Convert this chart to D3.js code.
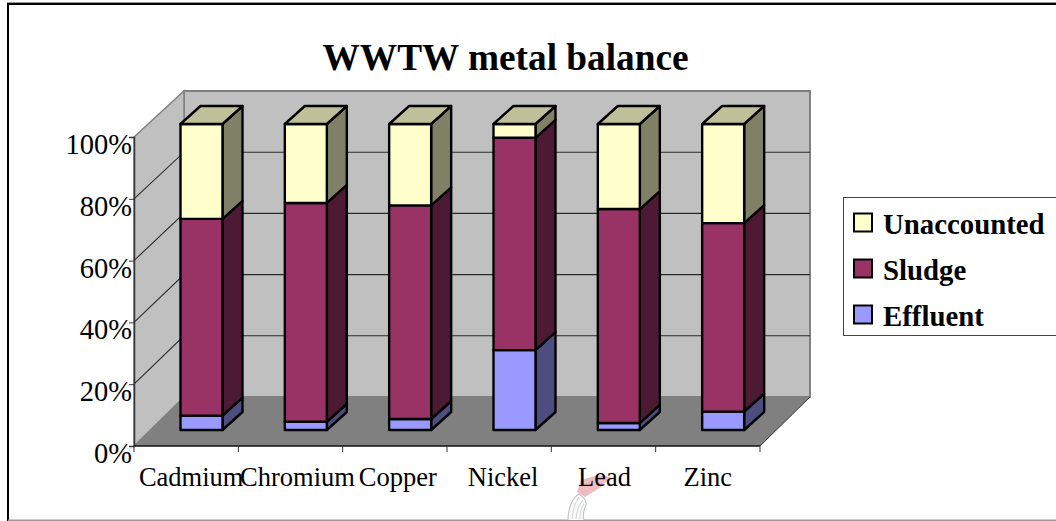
<!DOCTYPE html>
<html>
<head>
<meta charset="utf-8">
<script src="https://cdn.jsdelivr.net/npm/d3@7"></script>
<style>
  html, body { margin: 0; padding: 0; background: #fff; overflow: hidden; }
  svg { display: block; }
  text { font-family: "Liberation Serif", "Times New Roman", serif; fill: #000; }
</style>
</head>
<body>
<svg id="chart" width="1056" height="521"></svg>
<script>
// Share of each metal by destination, in percent.
const metals = ["Cadmium", "Chromium", "Copper", "Nickel", "Lead", "Zinc"];
const effluent = [4.7, 2.7, 3.6, 26.1, 2.3, 6.0];
const sludge = [64.3, 71.5, 69.8, 69.4, 69.9, 61.6];
const unaccounted = [31.0, 25.8, 26.6, 4.5, 27.8, 32.4];
const seriesNames = ["Effluent", "Sludge", "Unaccounted"];
const percentTicks = [0, 20, 40, 60, 80, 100];
const chartTitle = "WWTW metal balance";

const frontColours = { Effluent: "#9999ff", Sludge: "#993366", Unaccounted: "#ffffcc" };
const sideColours = { Effluent: "#4d4d80", Sludge: "#4d1a33", Unaccounted: "#808066" };
const topColour = "#bfbf99";

const svg = d3.select("#chart");

// Box geometry of the 3-D plot: front edge of the floor and the wall's offset behind it.
const floorLeft = 134, floorRight = 760, floorY = 446;
const wallDx = 50;
const x = d3.scaleBand().domain(metals).range([floorLeft, floorRight]);
const y = d3.scaleLinear().domain([0, 100]).range([floorY, 137]);
const backY = d3.scaleLinear().domain([0, 100]).range([397, 91]);
const barY = d3.scaleLinear().domain([0, 100]).range([430, 124]);
const barInset = 46.5, barWidth = 42, barDx = 20, barDy = -18;

const pts = a => a.map(p => p.join(",")).join(" ");

// Top and left rules of the chart border, with the thin rule along the bottom
svg.append("path").attr("d", "M8,521 V4 H1056").attr("fill", "none")
  .attr("stroke", "#000").attr("stroke-width", 2);
svg.append("line").attr("x1", 7).attr("x2", 1056).attr("y1", 2.5).attr("y2", 2.5)
  .attr("stroke", "#999").attr("stroke-width", 1);
svg.append("line").attr("x1", 8).attr("x2", 1056).attr("y1", 520.3).attr("y2", 520.3)
  .attr("stroke", "#9a9a9a").attr("stroke-width", 1.4);

// Small crest printed on the page behind the axis labels
const crest = svg.append("g");
crest.append("path").attr("d", "M577,492 L581,480 L598,475 L611,477 L601,487 L585,497 Z")
  .attr("fill", "#efbcc2");
crest.append("path").attr("d", "M568,520 C568,508 573,497 579,494 C583,497 587,500 586,505 C583,511 583,516 584,520")
  .attr("fill", "#fafafa").attr("stroke", "#c4c4c4").attr("stroke-width", 1.2);
crest.append("path").attr("d", "M572,519 C573,509 575,503 579,497 M576,519 C577,510 579,505 583,500 M580,519 C580,512 581,508 584,504")
  .attr("fill", "none").attr("stroke", "#d2d2d2").attr("stroke-width", 1);

// Walls and floor
const wallFill = "#c0c0c0", edge = "#808080";
svg.append("polygon").attr("fill", wallFill).attr("stroke", edge).attr("stroke-width", 2)
  .attr("points", pts([[floorLeft + wallDx, backY(0)], [floorRight + wallDx, backY(0)], [floorRight + wallDx, backY(100)], [floorLeft + wallDx, backY(100)]]));
svg.append("polygon").attr("fill", wallFill).attr("stroke", edge).attr("stroke-width", 1.5)
  .attr("points", pts([[floorLeft, y(0)], [floorLeft + wallDx, backY(0)], [floorLeft + wallDx, backY(100)], [floorLeft, y(100)]]));
svg.append("polygon").attr("fill", "#808080")
  .attr("points", pts([[floorLeft, y(0)], [floorRight, y(0)], [floorRight + wallDx, backY(0)], [floorLeft + wallDx, backY(0)]]));
svg.append("line").attr("x1", floorRight).attr("y1", y(0)).attr("x2", floorRight + wallDx).attr("y2", backY(0))
  .attr("stroke", "#333").attr("stroke-width", 1);

// Gridlines running along the side wall and across the back wall
const gridTicks = percentTicks.filter(t => t > 0 && t < 100);
svg.append("g").selectAll("polyline").data(gridTicks).join("polyline")
  .attr("fill", "none").attr("stroke", "#2a2a2a").attr("stroke-width", 1.1)
  .attr("points", t => pts([[floorLeft, y(t)], [floorLeft + wallDx, backY(t)], [floorRight + wallDx, backY(t)]]));

// Axis lines with outward ticks, built from the same scales
const yAxis = d3.axisLeft(y).tickValues(percentTicks).tickSize(5).tickFormat(d => d + "%");
const yG = svg.append("g").attr("transform", `translate(${floorLeft},0)`).call(yAxis);
yG.select(".domain").attr("stroke", "#333").attr("stroke-width", 1.5);
yG.selectAll(".tick line").attr("stroke", "#333");
yG.selectAll("text").attr("font-size", 28.5).attr("dx", 6).attr("dy", 16.5)
  .style("font-family", '"Liberation Serif", serif').attr("fill", "#000");

const xG = svg.append("g").attr("transform", `translate(0,${floorY})`);
xG.append("line").attr("x1", floorLeft).attr("x2", floorRight).attr("stroke", "#111").attr("stroke-width", 1.5);
const edges = [...metals.map(m => x(m)), floorRight];
xG.selectAll("line.tick").data(edges).join("line").attr("class", "tick")
  .attr("x1", d => d).attr("x2", d => d).attr("y1", 0).attr("y2", 6)
  .attr("stroke", "#333").attr("stroke-width", 1);
const labelNudge = [5, 7, 3, 4, 1, 0];
xG.selectAll("text").data(metals).join("text")
  .attr("x", (d, i) => x(d) + x.bandwidth() / 2 + labelNudge[i]).attr("y", 39.5)
  .attr("text-anchor", "middle").attr("font-size", 26.5).text(d => d);

// Stacked 3-D columns, lower segments first so the upper ones overlap them
const rows = metals.map((m, i) => ({ metal: m, Effluent: effluent[i], Sludge: sludge[i], Unaccounted: unaccounted[i] }));
const stacked = d3.stack().keys(seriesNames)(rows);

const applyStroke = sel => sel.attr("stroke", "#000").attr("stroke-width", 2.4).attr("stroke-linejoin", "round");

stacked.forEach(layer => {
  const name = layer.key;
  const g = svg.append("g").attr("class", "series-" + name);
  layer.forEach(seg => {
    const x0 = x(seg.data.metal) + barInset, x1 = x0 + barWidth;
    const yb = barY(seg[0]), yt = barY(seg[1]);
    applyStroke(g.append("polygon")).attr("fill", sideColours[name])
      .attr("points", pts([[x1, yb], [x1 + barDx, yb + barDy], [x1 + barDx, yt + barDy], [x1, yt]]));
    applyStroke(g.append("rect")).attr("fill", frontColours[name])
      .attr("x", x0).attr("y", yt).attr("width", barWidth).attr("height", yb - yt);
    if (name === "Unaccounted") {
      applyStroke(g.append("polygon")).attr("fill", topColour)
        .attr("points", pts([[x0, yt], [x0 + barDx, yt + barDy], [x1 + barDx, yt + barDy], [x1, yt]]));
    }
  });
});

// Title
svg.append("text").attr("x", 505.6).attr("y", 69.5).attr("text-anchor", "middle")
  .attr("font-size", 37.3).attr("font-weight", "bold").text(chartTitle);

// Legend
const legend = svg.append("g");
legend.append("rect").attr("x", 843.5).attr("y", 197.5).attr("width", 230).attr("height", 138)
  .attr("fill", "#fff").attr("stroke", "#444").attr("stroke-width", 1);
const legendOrder = [...seriesNames].reverse();
const legendY = d3.scalePoint().domain(legendOrder).range([223, 315]);
legendOrder.forEach(name => {
  legend.append("rect").attr("x", 854).attr("y", legendY(name) - 9.5).attr("width", 18).attr("height", 18)
    .attr("fill", frontColours[name]).attr("stroke", "#000").attr("stroke-width", 2);
  legend.append("text").attr("x", 883).attr("y", legendY(name) + 11)
    .attr("font-size", 28.8).attr("font-weight", "bold").text(name);
});
</script>
</body>
</html>
